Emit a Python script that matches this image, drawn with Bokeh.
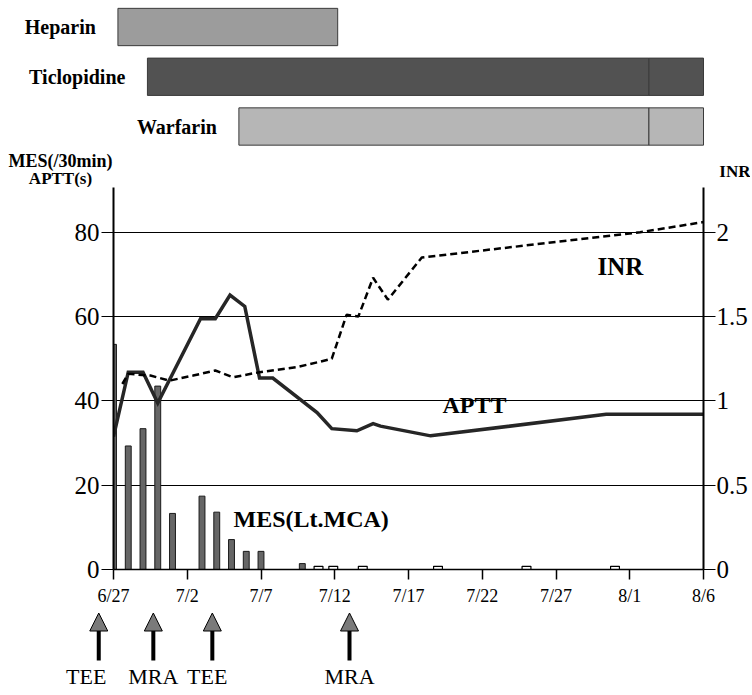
from bokeh.plotting import figure
from bokeh.layouts import column
from bokeh.models import Range1d, LinearAxis, FixedTicker, Arrow, NormalHead
from bokeh.embed import file_html
from bokeh.resources import INLINE
from bokeh.core.properties import value

# ---------------- data ----------------
xtick_days = [0, 5, 10, 15, 20, 25, 30, 35, 40]
xtick_labels = ["6/27", "7/2", "7/7", "7/12", "7/17", "7/22", "7/27", "8/1", "8/6"]
left_ticks = [0, 20, 40, 60, 80]
grid_ticks = [20, 40, 60, 80]
inr_ticks = [0, 0.5, 1, 1.5, 2]
inr_tick_labels = ["0", "0.5", "1", "1.5", "2"]

mes_days = [0, 1, 2, 3, 4, 6, 7, 8, 9, 10, 12.8]
mes_vals = [53.4, 29.3, 33.4, 43.5, 13.3, 17.4, 13.6, 7.1, 4.3, 4.3, 1.4]
mes_zero_days = [13.9, 14.9, 16.9, 22, 28, 34]
mes_zero_vals = [0, 0, 0, 0, 0, 0]

aptt_days = [0, 1, 2, 3, 5.9, 6.9, 7.9, 8.9, 9.9, 10.8, 13.8, 14.8, 16.5, 17.6, 18.1, 21.5, 33.4, 40]
aptt_vals = [31.5, 46.8, 46.8, 39.5, 59.5, 59.5, 65.1, 62.4, 45.4, 45.4, 37.2, 33.4, 32.9, 34.6, 34.0, 31.7, 36.8, 36.8]

inr_days = [0.6, 1.0, 2.5, 3.8, 5.4, 6.9, 8.1, 9.9, 12.4, 13.9, 14.8, 15.8, 16.6, 17.6, 18.6, 20.9, 35.7, 40]
inr_vals = [1.10, 1.16, 1.15, 1.12, 1.15, 1.18, 1.14, 1.17, 1.20, 1.23, 1.25, 1.51, 1.50, 1.73, 1.60, 1.85, 2.00, 2.06]

drug_names = ["Heparin", "Ticlopidine", "Warfarin"]
drug_rows = [0, 1, 2]
drug_start = [0.3, 2.3, 8.5]
drug_end = [15.2, 40, 40]
drug_split = 36.3

event_names = ["TEE", "MRA", "TEE", "MRA"]
event_days = [-1.0, 2.7, 6.7, 16.0]
event_label_days = [-1.85, 2.7, 6.35, 16.0]

# ---------------- layout (page pixels) ----------------
W = 750
B_LEFT, B_RIGHT = 113, 47
FRAME_W = W - B_LEFT - B_RIGHT
X_MAX = 40
PX_DAY = FRAME_W / X_MAX
TOP_H, MAIN_H, BOT_H = 187, 425, 79
B_BOT = 43
FRAME_H = MAIN_H - B_BOT
FRAME_TOP = TOP_H
FRAME_BOTTOM = TOP_H + FRAME_H
PX_VAL = 4.216
Y_MAX = FRAME_H / PX_VAL
ROW0_Y, ROW_PX = 26.5, 49.75

def day_at(px):
    return (px - B_LEFT) / PX_DAY

def row_at(py):
    return (py - ROW0_Y) / ROW_PX

BOLD = "Liberation Serif"
SERIF = "Liberation Serif"

# ---------------- top: drug bars + axis titles ----------------
t = figure(width=W, height=TOP_H, x_range=Range1d(day_at(0), day_at(W)),
           y_range=Range1d(row_at(TOP_H), row_at(0)),
           output_backend="svg", toolbar_location=None, min_border=0,
           x_axis_type=None, y_axis_type=None, frame_align=False)
t.outline_line_color = None
t.grid.visible = False
drug_colors = ["#9c9c9c", "#525252", "#b6b6b6"]
left_part_end = [min(e, drug_split) for e in drug_end]
t.hbar(y=drug_rows, left=drug_start, right=left_part_end, height=0.75,
       fill_color=drug_colors, line_color="#3a3a3a", line_width=1)
r_rows = [r for r, e in zip(drug_rows, drug_end) if e > drug_split]
r_end = [e for e in drug_end if e > drug_split]
r_cols = [c for c, e in zip(drug_colors, drug_end) if e > drug_split]
t.hbar(y=r_rows, left=[drug_split] * len(r_rows), right=r_end, height=0.75,
       fill_color=r_cols, line_color="#3a3a3a", line_width=1)
t.text(x=drug_start, y=drug_rows, text=drug_names, text_align="right", text_baseline="middle",
       x_offset=-22, text_font=value(BOLD), text_font_style="bold", text_font_size="20px",
       text_color="black")

def top_text(text, px, py, size, align):
    t.text(x=[day_at(px)], y=[row_at(py)], text=[text], text_align=align, text_baseline="middle",
           text_font=value(BOLD), text_font_style="bold", text_font_size=size, text_color="black")

top_text("MES(/30min)", 60, 160, "18px", "center")
top_text("APTT(s)", 60, 178, "17px", "center")
top_text("INR", 750, 171, "17px", "right")

# ---------------- main chart ----------------
p = figure(width=W, height=MAIN_H, x_range=Range1d(0, X_MAX), y_range=Range1d(0, Y_MAX),
           output_backend="svg", toolbar_location=None, frame_align=False,
           min_border_left=B_LEFT, min_border_right=B_RIGHT,
           min_border_top=0, min_border_bottom=B_BOT)
p.outline_line_color = None
p.background_fill_color = "white"
p.extra_y_ranges = {"inr": Range1d(0, Y_MAX / 40)}

p.xgrid.visible = False
p.ygrid.ticker = FixedTicker(ticks=grid_ticks)
p.ygrid.grid_line_color = "black"
p.ygrid.grid_line_width = 1

xa = p.xaxis[0]
xa.ticker = FixedTicker(ticks=xtick_days)
xa.major_label_overrides = dict(zip(xtick_days, xtick_labels))
xa.axis_line_width = 1.5
xa.major_tick_out = 10
xa.major_tick_in = 0
xa.minor_tick_out = 0
xa.minor_tick_in = 0
xa.major_tick_line_width = 1.5
xa.major_label_text_font = SERIF
xa.major_label_text_font_size = "18px"
xa.major_label_text_color = "black"
xa.major_label_standoff = 6

ya = p.yaxis[0]
ya.ticker = FixedTicker(ticks=left_ticks)
ra = LinearAxis(y_range_name="inr", ticker=FixedTicker(ticks=inr_ticks),
                major_label_overrides=dict(zip(inr_ticks, inr_tick_labels)))
p.add_layout(ra, "right")
for ax in (ya, ra):
    ax.axis_line_width = 2
    ax.axis_line_color = "black"
    ax.major_tick_out = 12
    ax.major_tick_in = 0
    ax.minor_tick_out = 0
    ax.minor_tick_in = 0
    ax.major_tick_line_width = 1.2
    ax.major_label_text_font = SERIF
    ax.major_label_text_font_size = "25px"
    ax.major_label_text_color = "black"
    ax.major_label_standoff = 2
ra.major_tick_out = 12
ra.major_label_standoff = 1

p.vbar(x=mes_days, top=mes_vals, width=0.4, bottom=0, fill_color="#666666",
       line_color="#1a1a1a", line_width=1)
p.rect(x=mes_zero_days, y=mes_zero_vals, width=0.6, height=1.5, fill_color="white",
       line_color="black", line_width=1.2)
p.line(aptt_days, aptt_vals, line_width=3.5, line_color="#262626", line_join="miter")
p.line(inr_days, inr_vals, y_range_name="inr", line_width=2.5, line_color="black",
       line_dash="7 4")

def main_text(text, px, py, size):
    p.text(x=[day_at(px)], y=[(FRAME_BOTTOM - py) / PX_VAL], text=[text], text_align="left",
           text_baseline="middle", text_font=value(BOLD), text_font_style="bold",
           text_font_size=size, text_color="black")

main_text("MES(Lt.MCA)", 233, 518, "24px")
main_text("APTT", 442, 404, "24px")
main_text("INR", 597, 266, "25px")

# ---------------- bottom: events ----------------
b = figure(width=W, height=BOT_H, x_range=Range1d(day_at(0), day_at(W)), y_range=Range1d(BOT_H, 0),
           output_backend="svg", toolbar_location=None, min_border=0, frame_align=False,
           x_axis_type=None, y_axis_type=None)
b.outline_line_color = None
b.grid.visible = False
for d in event_days:
    b.add_layout(Arrow(end=NormalHead(size=18, fill_color="#7a7a7a", line_color="black", line_width=1),
                       x_start=d, y_start=48, x_end=d, y_end=0.5, line_width=4, line_color="black"))
b.text(x=event_label_days, y=[64] * len(event_names), text=event_names, text_align="center",
       text_baseline="middle", text_font=value(SERIF), text_font_size="22px", text_color="black")

layout = column(t, p, b, spacing=0)
open("out.html", "w").write(file_html(layout, INLINE))
